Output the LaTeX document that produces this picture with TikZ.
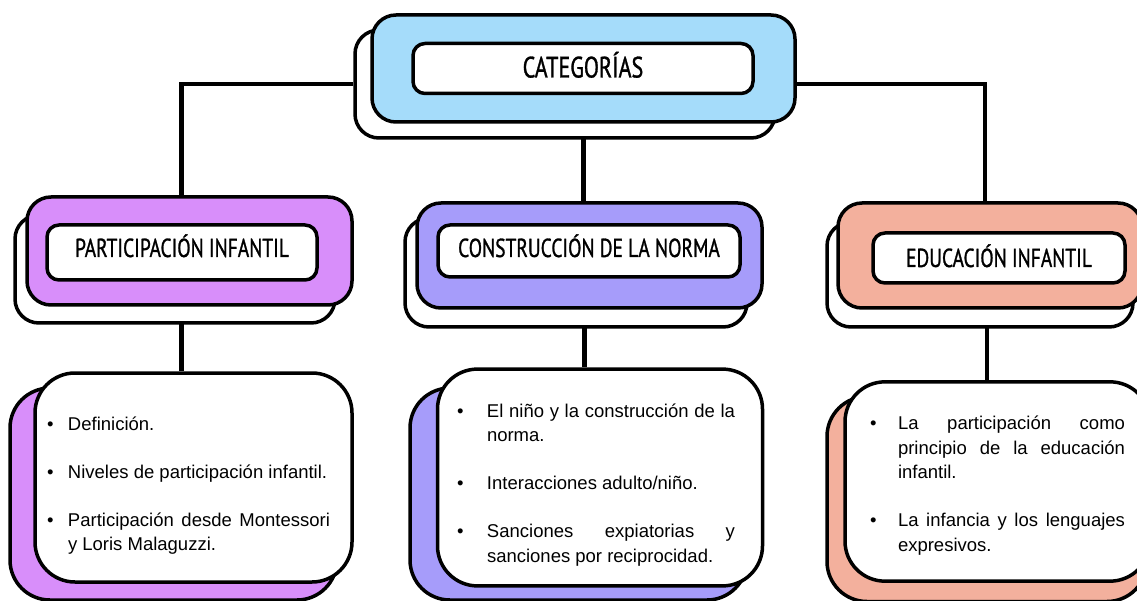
\documentclass[tikz,border=0pt]{standalone}
\usepackage{fontspec}
\setmainfont{Liberation Sans}
\newfontfamily\headfont[FakeStretch=0.75,FakeBold=1]{PT Sans}
\usetikzlibrary{calc,backgrounds}

\definecolor{skyblue}{RGB}{165,220,250}
\definecolor{orchid}{RGB}{216,142,250}
\definecolor{lavender}{RGB}{166,156,250}
\definecolor{salmon}{RGB}{243,176,157}

% fonts for titles and lists
\newcommand{\titlefont}{\headfont\fontsize{26}{28}\selectfont}
\newcommand{\listfont}{\fontsize{18.5}{24.5}\selectfont\parskip=23.5pt\relax\hyphenpenalty=10000\relax}
% bullet with hanging text
\newcommand{\Point}[2][21pt]{\par\hangindent=#1\relax\hangafter=0\relax\noindent\llap{\makebox[#1][l]{\textbullet}}#2\par}
% extra room below a list (lifts the text)
\newcommand{\Lift}[1]{\par\vskip #1\hrule height 0pt width 0pt\relax}

\tikzset{
    groupbox/.style={draw, line width=3.5pt, rounded corners=24pt, inner sep=0pt, fill=white},
    headline/.style={draw, line width=3.5pt, rounded corners=12pt, inner sep=0pt, fill=white,
        font=\titlefont, text height=18pt, text depth=0pt},
    listbox/.style={draw, line width=3.5pt, rounded corners=40pt, inner sep=0pt, fill=white,
        align=justify, font=\listfont},
    link/.style={line width=4.5pt}
}

\begin{document}
\begin{tikzpicture}[x=1pt, y=-1pt]
    \useasboundingbox (0,0) rectangle (1137,601);
    % Categories
    \node [groupbox,
        minimum width=420pt,
        minimum height=108pt
    ] (CategoryBack) at (565,84) {};
    \node [groupbox, fill=skyblue,
        minimum width=423pt,
        minimum height=107pt
    ] (Category) at ([shift={(18.5,-15.5)}]CategoryBack.center) {};
    \node [headline,
        font=\headfont\fontsize{29.5}{31}\selectfont,
        text height=20pt, text depth=2pt,
        minimum width=340pt,
        minimum height=50pt
    ] (Title0) at ([shift={(-0.5,0)}]Category.center) {CATEGORÍAS};

    % Groups
    \node [groupbox,
        minimum width=320pt,
        minimum height=108pt
    ] (Group1Back) at (175,269) {};
    \node [groupbox, fill=orchid,
        minimum width=325pt,
        minimum height=108pt
    ] (Group1) at ([shift={(14.5,-18)}]Group1Back.center) {};
    \node [headline, text depth=9pt,
        minimum width=270pt,
        minimum height=55pt
    ] (Title1) at ([shift={(-7.5,1.5)}]Group1.center) {PARTICIPACIÓN INFANTIL};

    \node [groupbox,
        minimum width=342pt,
        minimum height=109pt
    ] (Group2Back) at (576,272.5) {};
    \node [groupbox, fill=lavender,
        minimum width=345pt,
        minimum height=105pt
    ] (Group2) at ([shift={(13.5,-17)}]Group2Back.center) {};
    \node [headline, text depth=6pt,
        minimum width=302pt,
        minimum height=52pt
    ] (Title2) at ([shift={(-0.5,-4.5)}]Group2.center) {CONSTRUCCIÓN DE LA NORMA};

    \node [groupbox,
        minimum width=306pt,
        minimum height=105pt
    ] (Group3Back) at (980,274.5) {};
    \node [groupbox, fill=salmon,
        minimum width=304pt,
        minimum height=105pt
    ] (Group3) at ([shift={(10,-19)}]Group3Back.center) {};
    \node [headline,
        minimum width=252pt,
        minimum height=50pt
    ] (Title3) at ([shift={(9,2.5)}]Group3.center) {EDUCACIÓN INFANTIL};

    % Lists
    \node [groupbox, fill=orchid, rounded corners=40pt,
        minimum width=327pt,
        minimum height=212pt
    ] (List1Back) at (173.5,494) {};
    \node [listbox,
        minimum width=317pt,
        minimum height=209pt,
        text width=283pt
    ] (List1) at ([shift={(20,-16.5)}]List1Back.center) {%
        \leftskip=-5pt\rightskip=5pt
        \Point{Definición.}
        \Point{Niveles de participación infantil.}
        \Point{Participación desde Montessori y Loris Malaguzzi.}
        \Lift{18pt}};

    \node [groupbox, fill=lavender, rounded corners=40pt,
        minimum width=337pt,
        minimum height=212pt
    ] (List2Back) at (578.5,494) {};
    \node [listbox,
        minimum width=325pt,
        minimum height=209pt,
        text width=278pt
    ] (List2) at ([shift={(21.5,-16.5)}]List2Back.center) {%
        \leftskip=-4pt\rightskip=4pt
        \Point[30pt]{El niño y la construcción de la norma.}
        \Point[30pt]{Interacciones adulto/niño.}
        \Point[30pt]{Sanciones expiatorias y sanciones por reciprocidad.}
        \Lift{20pt}};

    \node [groupbox, fill=salmon, rounded corners=40pt,
        minimum width=320pt,
        minimum height=205pt
    ] (List3Back) at (987,499) {};
    \node [listbox,
        minimum width=305pt,
        minimum height=197pt,
        text width=255pt
    ] (List3) at ([shift={(10.5,-17.5)}]List3Back.center) {%
        \Point[28pt]{La participación como principio de la educación infantil.}
        \Point[28pt]{La infancia y los lenguajes expresivos.}
        \Lift{26pt}};

    % Connectors
    \begin{scope}[on background layer]
        \draw[link] (CategoryBack.west) -| ([xshift=-8pt]Group1.north);
        \draw[link] (Category.south) -- (Category.south |- Group2.north);
        \draw[link] (CategoryBack.east) -| ([xshift=-5pt]Group3.north);
        \draw[link] ([xshift=-8pt]Group1.south) -- ([xshift=-8pt]Group1.south |- List1.north);
        \draw[link] ([xshift=-5pt]Group2.south) -- ([xshift=-5pt]Group2.south |- List2.north);
        \draw[link] ([xshift=-3pt]Group3.south) -- ([xshift=-3pt]Group3.south |- List3.north);
    \end{scope}

\end{tikzpicture}
\end{document}
